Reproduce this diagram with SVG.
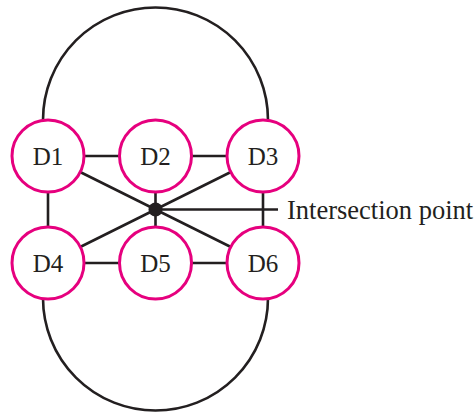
<svg xmlns="http://www.w3.org/2000/svg" width="475" height="413" viewBox="0 0 475 413">
<style>
.c{fill:#fff;stroke:#e6007e;stroke-width:3}
.e{fill:none;stroke:#231f20;stroke-width:2.6}
.t{font-family:"Liberation Serif","Times New Roman",serif;font-size:25px;fill:#231f20}
.l{font-size:26.5px}
</style>
<rect width="475" height="413" fill="#fff"/>
<g id="connectors">
<path class="e" d="M43,120 A112.5,112.5 0 0 1 268,120"/>
<path class="e" d="M43,298 A112.5,112.5 0 0 0 268,298"/>
<line class="e" x1="48" y1="156" x2="155.5" y2="156"/>
<line class="e" x1="155.5" y1="156" x2="263" y2="156"/>
<line class="e" x1="48" y1="263" x2="155.5" y2="263"/>
<line class="e" x1="155.5" y1="263" x2="263" y2="263"/>
<line class="e" x1="48" y1="156" x2="48" y2="263"/>
<line class="e" x1="263" y1="156" x2="263" y2="263"/>
<line class="e" x1="155.5" y1="156" x2="155.5" y2="263"/>
<line class="e" x1="48" y1="156" x2="263" y2="263"/>
<line class="e" x1="263" y1="156" x2="48" y2="263"/>
<line class="e" x1="155.5" y1="209.5" x2="278" y2="209.5"/>
</g>
<g id="D1"><circle class="c" cx="48" cy="156" r="36"/><text class="t" x="48" y="165" text-anchor="middle">D1</text></g>
<g id="D2"><circle class="c" cx="155.5" cy="156" r="36"/><text class="t" x="155.5" y="165" text-anchor="middle">D2</text></g>
<g id="D3"><circle class="c" cx="263" cy="156" r="36"/><text class="t" x="263" y="165" text-anchor="middle">D3</text></g>
<g id="D4"><circle class="c" cx="48" cy="263" r="36"/><text class="t" x="48" y="272" text-anchor="middle">D4</text></g>
<g id="D5"><circle class="c" cx="155.5" cy="263" r="36"/><text class="t" x="155.5" y="272" text-anchor="middle">D5</text></g>
<g id="D6"><circle class="c" cx="263" cy="263" r="36"/><text class="t" x="263" y="272" text-anchor="middle">D6</text></g>
<g id="intersection"><circle cx="155.5" cy="209.5" r="7" fill="#231f20"/><text class="t l" x="287" y="219">Intersection point</text></g>
</svg>
